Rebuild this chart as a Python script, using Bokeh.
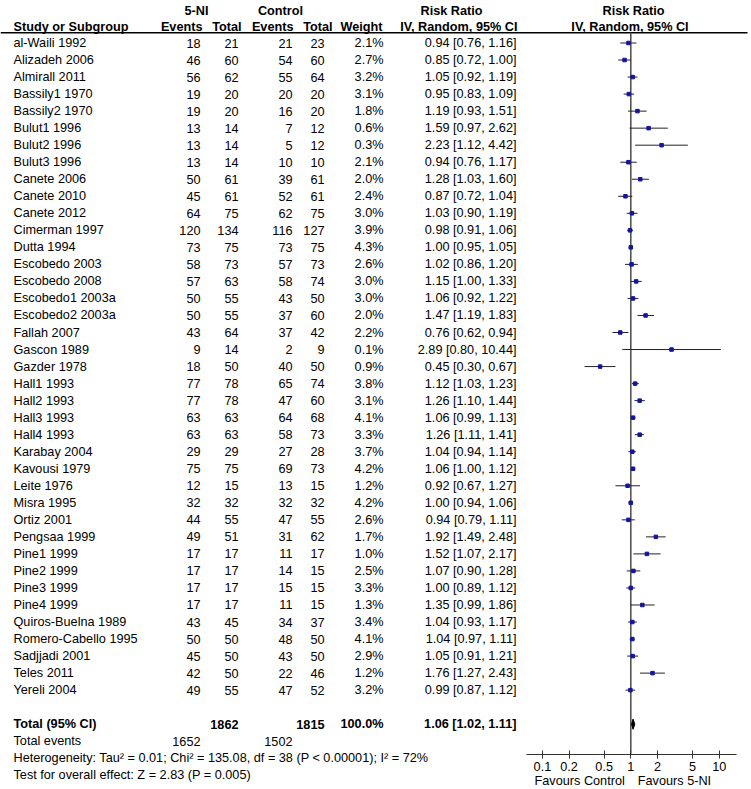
from bokeh.plotting import figure
from bokeh.models import (Range1d, LogScale, LogAxis, FixedTicker,
                          CustomJSTickFormatter, ColumnDataSource)
from bokeh.core.properties import value
from bokeh.embed import file_html
from bokeh.resources import INLINE

# ---------------- data ----------------
studies = ["al-Waili 1992", "Alizadeh 2006", "Almirall 2011", "Bassily1 1970", "Bassily2 1970",
           "Bulut1 1996", "Bulut2 1996", "Bulut3 1996", "Canete 2006", "Canete 2010",
           "Canete 2012", "Cimerman 1997", "Dutta 1994", "Escobedo 2003", "Escobedo 2008",
           "Escobedo1 2003a", "Escobedo2 2003a", "Fallah 2007", "Gascon 1989", "Gazder 1978",
           "Hall1 1993", "Hall2 1993", "Hall3 1993", "Hall4 1993", "Karabay 2004",
           "Kavousi 1979", "Leite 1976", "Misra 1995", "Ortiz 2001", "Pengsaa 1999",
           "Pine1 1999", "Pine2 1999", "Pine3 1999", "Pine4 1999", "Quiros-Buelna 1989",
           "Romero-Cabello 1995", "Sadjjadi 2001", "Teles 2011", "Yereli 2004"]
events_5ni = [18, 46, 56, 19, 19, 13, 13, 13, 50, 45, 64, 120, 73, 58, 57, 50, 50, 43, 9, 18,
              77, 77, 63, 63, 29, 75, 12, 32, 44, 49, 17, 17, 17, 17, 43, 50, 45, 42, 49]
total_5ni = [21, 60, 62, 20, 20, 14, 14, 14, 61, 61, 75, 134, 75, 73, 63, 55, 55, 64, 14, 50,
             78, 78, 63, 63, 29, 75, 15, 32, 55, 51, 17, 17, 17, 17, 45, 50, 50, 50, 55]
events_ctl = [21, 54, 55, 20, 16, 7, 5, 10, 39, 52, 62, 116, 73, 57, 58, 43, 37, 37, 2, 40,
              65, 47, 64, 58, 27, 69, 13, 32, 47, 31, 11, 14, 15, 11, 34, 48, 43, 22, 47]
total_ctl = [23, 60, 64, 20, 20, 12, 12, 10, 61, 61, 75, 127, 75, 73, 74, 50, 60, 42, 9, 50,
             74, 60, 68, 73, 28, 73, 15, 32, 55, 62, 17, 15, 15, 15, 37, 50, 50, 46, 52]
weight = [2.1, 2.7, 3.2, 3.1, 1.8, 0.6, 0.3, 2.1, 2.0, 2.4, 3.0, 3.9, 4.3, 2.6, 3.0, 3.0, 2.0,
          2.2, 0.1, 0.9, 3.8, 3.1, 4.1, 3.3, 3.7, 4.2, 1.2, 4.2, 2.6, 1.7, 1.0, 2.5, 3.3, 1.3,
          3.4, 4.1, 2.9, 1.2, 3.2]
rr = [0.94, 0.85, 1.05, 0.95, 1.19, 1.59, 2.23, 0.94, 1.28, 0.87, 1.03, 0.98, 1.00, 1.02, 1.15,
      1.06, 1.47, 0.76, 2.89, 0.45, 1.12, 1.26, 1.06, 1.26, 1.04, 1.06, 0.92, 1.00, 0.94, 1.92,
      1.52, 1.07, 1.00, 1.35, 1.04, 1.04, 1.05, 1.76, 0.99]
rr_lo = [0.76, 0.72, 0.92, 0.83, 0.93, 0.97, 1.12, 0.76, 1.03, 0.72, 0.90, 0.91, 0.95, 0.86, 1.00,
         0.92, 1.19, 0.62, 0.80, 0.30, 1.03, 1.10, 0.99, 1.11, 0.94, 1.00, 0.67, 0.94, 0.79, 1.49,
         1.07, 0.90, 0.89, 0.99, 0.93, 0.97, 0.91, 1.27, 0.87]
rr_hi = [1.16, 1.00, 1.19, 1.09, 1.51, 2.62, 4.42, 1.17, 1.60, 1.04, 1.19, 1.06, 1.05, 1.20, 1.33,
         1.22, 1.83, 0.94, 10.44, 0.67, 1.23, 1.44, 1.13, 1.41, 1.14, 1.12, 1.27, 1.06, 1.11, 2.48,
         2.17, 1.28, 1.12, 1.86, 1.17, 1.11, 1.21, 2.43, 1.12]

total_n_5ni = 1862
total_n_ctl = 1815
total_ev_5ni = 1652
total_ev_ctl = 1502
total_weight = "100.0%"
total_rr, total_lo, total_hi = 1.06, 1.02, 1.11
heterogeneity = "Heterogeneity: Tau\u00b2 = 0.01; Chi\u00b2 = 135.08, df = 38 (P < 0.00001); I\u00b2 = 72%"
overall = "Test for overall effect: Z = 2.83 (P = 0.005)"
tick_values = [0.1, 0.2, 0.5, 1, 2, 5, 10]

# ---------------- layout constants (page px) ----------------
W, H = 751, 789
ROW0 = 42.5       # px of first study row
ROW_H = 17.03
ONE_PX = 630.3    # px of RR = 1
DEC = 88.4        # px per decade
FONT = value("Liberation Sans")
FS = "12.7px"

def row(px):
    return (px - ROW0) / ROW_H

n = len(studies)
ys = list(range(n))
y_total = n + 1
y_events = n + 2
y_het = n + 3
y_test = n + 4
AXIS_Y = row(754.3)
HDR1 = row(10)
HDR2 = row(26.5)
HLINE = row(32.3)
FAV_Y = row(780)

p = figure(width=W, height=H,
           x_range=Range1d(0, W),
           y_range=Range1d(row(H), row(0)),
           output_backend="svg", toolbar_location=None,
           x_axis_location=None, y_axis_location=None,
           min_border=0, outline_line_color=None, background_fill_color="white")
p.xgrid.grid_line_color = None
p.ygrid.grid_line_color = None
p.extra_x_ranges = {"rr": Range1d(10 ** (-ONE_PX / DEC), 10 ** ((W - ONE_PX) / DEC))}
p.extra_x_scales = {"rr": LogScale()}

fmt_rr = [f"{a:.2f} [{b:.2f}, {c:.2f}]" for a, b, c in zip(rr, rr_lo, rr_hi)]
src = ColumnDataSource(dict(
    y=ys, name=studies,
    e1=[str(v) for v in events_5ni], n1=[str(v) for v in total_5ni],
    e2=[str(v) for v in events_ctl], n2=[str(v) for v in total_ctl],
    w=[f"{v:.1f}%" for v in weight], rrt=fmt_rr,
    rr=rr, lo=rr_lo, hi=rr_hi))

def txt(x, y, text, align="left", bold=False, x_range_name=None, x_offset=0):
    kw = dict(text_align=align, text_baseline="middle", text_font=FONT,
              text_font_size=FS, text_color="black",
              text_font_style="bold" if bold else "normal", x_offset=x_offset)
    if x_range_name:
        kw["x_range_name"] = x_range_name
    return p.text(x=[x], y=[y], text=[text], **kw)

# column x (page px)
X_NAME, X_E1, X_N1, X_E2, X_N2, X_W, X_RR = 13, 200, 238, 292, 324, 383, 516

# headers
txt(196, HDR1, "5-NI", "center", True)
txt(280, HDR1, "Control", "center", True)
txt(451, HDR1, "Risk Ratio", "center", True)
txt(633, HDR1, "Risk Ratio", "center", True)
txt(X_NAME, HDR2, "Study or Subgroup", "left", True)
txt(202, HDR2, "Events", "right", True)
txt(241, HDR2, "Total", "right", True)
txt(293, HDR2, "Events", "right", True)
txt(332, HDR2, "Total", "right", True)
txt(382, HDR2, "Weight", "right", True)
txt(517, HDR2, "IV, Random, 95% CI", "right", True)
txt(629.5, HDR2, "IV, Random, 95% CI", "center", True)
p.segment(x0=[0], y0=[HLINE], x1=[747], y1=[HLINE], line_color="black", line_width=1.6)

# study rows
p.text(x=X_NAME, y="y", text="name", source=src, text_align="left", text_baseline="middle",
       text_font=FONT, text_font_size=FS, text_color="black")
for col, xx in (("e1", X_E1), ("n1", X_N1), ("e2", X_E2), ("n2", X_N2), ("w", X_W), ("rrt", X_RR)):
    p.text(x=xx, y="y", text=col, source=src, text_align="right", text_baseline="middle",
           text_font=FONT, text_font_size=FS, text_color="black")

# totals
txt(X_NAME, y_total, "Total (95% CI)", "left", True)
txt(X_N1, y_total, str(total_n_5ni), "right", True)
txt(X_N2, y_total, str(total_n_ctl), "right", True)
txt(X_W, y_total, total_weight, "right", True)
txt(X_RR, y_total, f"{total_rr:.2f} [{total_lo:.2f}, {total_hi:.2f}]", "right", True)
txt(X_NAME, y_events, "Total events", "left")
txt(X_E1, y_events, str(total_ev_5ni), "right")
txt(X_E2, y_events, str(total_ev_ctl), "right")
txt(X_NAME, y_het, heterogeneity, "left")
txt(X_NAME, y_test, overall, "left")

# forest plot
p.segment(x0=[1], y0=[HLINE], x1=[1], y1=[AXIS_Y], x_range_name="rr",
          line_color="#555555", line_width=1.6)
p.segment(x0="lo", y0="y", x1="hi", y1="y", source=src, x_range_name="rr",
          line_color="#222222", line_width=1)
p.scatter(x="rr", y="y", source=src, x_range_name="rr", marker="square",
          size=3.5, fill_color="#1414a0", line_color="#1414a0")
DH = 0.3
p.patch(x=[total_lo, total_rr, total_hi, total_rr],
        y=[y_total, y_total - DH, y_total, y_total + DH],
        x_range_name="rr", fill_color="black", line_color="black")

ax = LogAxis(x_range_name="rr", ticker=FixedTicker(ticks=tick_values),
             formatter=CustomJSTickFormatter(code="return tick.toString();"),
             fixed_location=AXIS_Y,
             bounds=(10 ** ((526 - ONE_PX) / DEC), 10 ** ((736 - ONE_PX) / DEC)),
             axis_line_color="#333333", axis_line_width=1,
             major_tick_line_color="#333333", major_tick_in=4, major_tick_out=4,
             minor_tick_line_color=None,
             major_label_text_font="Liberation Sans", major_label_text_font_size=FS,
             major_label_text_color="black", major_label_standoff=3)
p.add_layout(ax, "below")

txt(1, FAV_Y, "Favours Control", "right", x_range_name="rr", x_offset=-6)
txt(1, FAV_Y, "Favours 5-NI", "left", x_range_name="rr", x_offset=7)

open("out.html", "w").write(file_html(p, INLINE))
